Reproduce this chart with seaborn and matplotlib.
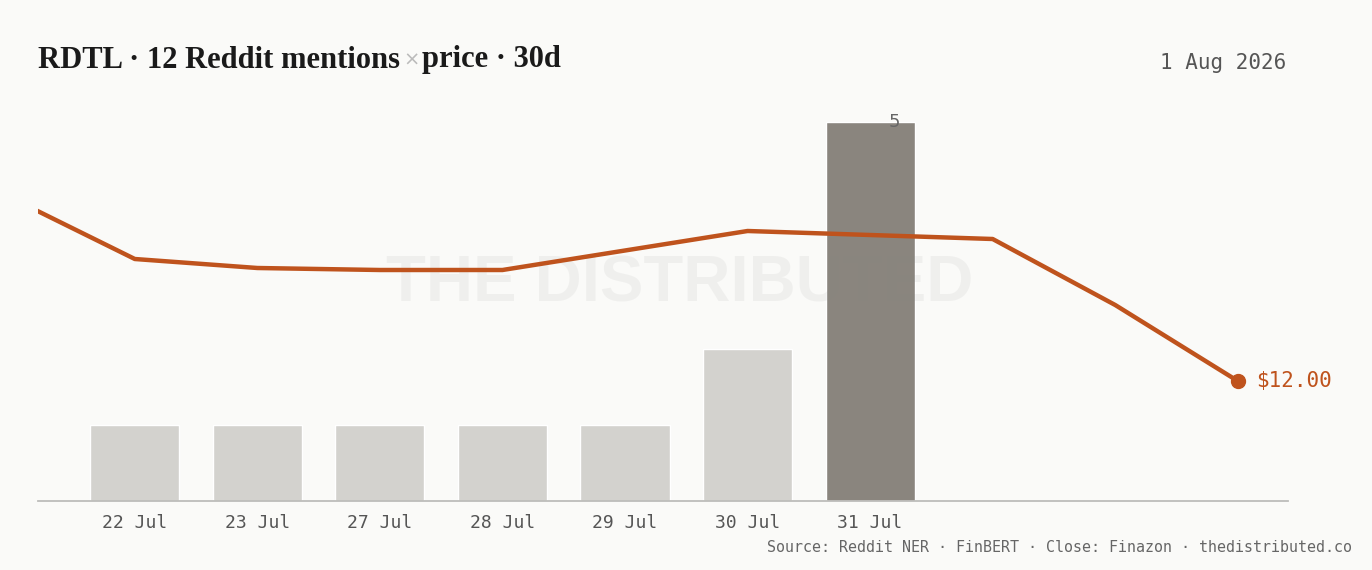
import matplotlib
matplotlib.use("Agg")
import matplotlib.pyplot as plt
import seaborn as sns
import pandas as pd

# ── data ────────────────────────────────────────────────────────────────
days = ["22 Jul", "23 Jul", "27 Jul", "28 Jul", "29 Jul", "30 Jul", "31 Jul"]
mentions = [1, 1, 1, 1, 1, 2, 5]

# close price, placed on the same slot index as the bars (slot 0 = 22 Jul)
price_slot = [-1, 0, 1, 2, 3, 5, 7, 8, 9]
price_close = [15.65, 14.44, 14.26, 14.22, 14.22, 15.00, 14.84, 13.52, 12.00]

TITLE = "RDTL · 12 Reddit mentions"
TITLE_2 = "price · 30d"
DATE = "1 Aug 2026"
SOURCE = "Source: Reddit NER · FinBERT · Close: Finazon · thedistributed.co"

BG = "#FAFAF8"
BAR = "#D3D2CE"
BAR_HI = "#8A857E"
ORANGE = "#BF531D"
MONO = ["DejaVu Sans Mono"]
SERIF = ["Liberation Serif"]

sns.set_theme(style="white")
plt.rcParams["font.family"] = ["DejaVu Sans"]

fig = plt.figure(figsize=(13.72, 5.70), dpi=100, facecolor=BG)
ax = fig.add_axes([38 / 1372, 69 / 570, 1250 / 1372, 401 / 570])
ax.set_facecolor(BG)

df = pd.DataFrame({"day": days, "n": mentions})
colors = [BAR] * (len(days) - 1) + [BAR_HI]
sns.barplot(data=df, x="day", y="n", hue="day", palette=colors,
            width=0.727, legend=False, saturation=1, ax=ax)
ax.set_xlim(-0.79, 9.41)
ax.set_ylim(0, 5.29)

# watermark, faint and over the bars
ax.text(0.513, 0.54, "THE DISTRIBUTED", transform=ax.transAxes,
        ha="center", va="center", fontsize=47, fontweight="bold",
        family=["Liberation Sans"], color="#888888", alpha=0.09, zorder=3)

# top bar label
top = mentions.index(max(mentions))
ax.text(top + 0.2, max(mentions), str(max(mentions)), ha="center", va="center",
        fontsize=13, color="#666666", zorder=5)

for s in ["top", "left", "right"]:
    ax.spines[s].set_visible(False)
ax.spines["bottom"].set_color("#BDBDBA")
ax.spines["bottom"].set_linewidth(1.3)
ax.set_yticks([])
ax.set_xlabel("")
ax.set_ylabel("")
ax.tick_params(axis="x", length=0, pad=9, labelsize=13, labelcolor="#555555")
for lab in ax.get_xticklabels():
    lab.set_family(MONO)

# price line on a twin axis
ax2 = ax.twinx()
pdf = pd.DataFrame({"slot": price_slot, "close": price_close})
sns.lineplot(data=pdf, x="slot", y="close", color=ORANGE, linewidth=3.2, ax=ax2)
ax2.plot(price_slot[-1], price_close[-1], "o", color=ORANGE, markersize=10)
ax2.text(price_slot[-1] + 0.15, price_close[-1], f"${price_close[-1]:.2f}",
         ha="left", va="center", fontsize=15, color=ORANGE, family=MONO)
ax2.set_xlim(-0.79, 9.41)
ax2.set_ylim(9.6, 17.62)
ax2.axis("off")

# titles and footer
ty = 1 - 60 / 570
t = fig.text(38 / 1372, ty, TITLE, ha="left", va="center",
             fontsize=22, fontweight="bold", family=SERIF, color="#1A1A1A")
fig.canvas.draw()
bb = t.get_window_extent()
m = fig.text(bb.x1 / 1372 + 3 / 1372, ty, "×", ha="left", va="center",
             fontsize=14, color="#BBBBBB")
fig.canvas.draw()
bb2 = m.get_window_extent()
fig.text(bb2.x1 / 1372 + 3 / 1372, ty, TITLE_2, ha="left", va="center",
         fontsize=22, fontweight="bold", family=SERIF, color="#1A1A1A")

fig.text(1286 / 1372, 1 - 63 / 570, DATE, ha="right", va="center",
         fontsize=15, color="#555555", family=MONO)
fig.text(1352 / 1372, 1 - 547 / 570, SOURCE, ha="right", va="center",
         fontsize=10.8, color="#666666", family=MONO)

fig.savefig("out.png", dpi=100, facecolor=BG)
